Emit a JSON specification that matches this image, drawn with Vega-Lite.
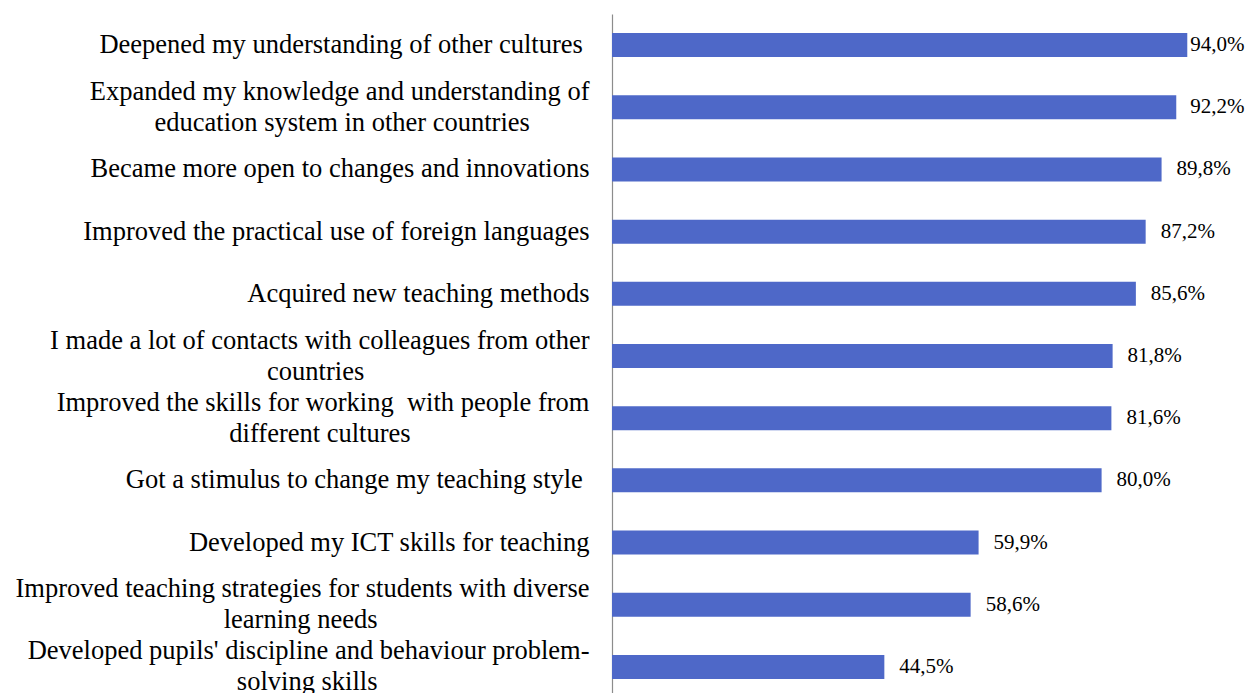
{
  "$schema": "https://vega.github.io/schema/vega-lite/v6.json",
  "autosize": "none",
  "width": 612,
  "height": 684,
  "padding": {"left": 612, "top": 14, "right": 22, "bottom": 0},
  "background": "white",
  "config": {"view": {"stroke": null}},
  "data": {
    "values": [
      {"label": "Deepened my understanding of other cultures\u00a0\u200b", "value": 94.0},
      {"label": "Expanded my knowledge and understanding of|education system in other countries\u00a0\u00a0\u00a0\u00a0\u00a0\u00a0\u00a0\u00a0\u00a0\u200b", "value": 92.2},
      {"label": "Became more open to changes and innovations", "value": 89.8},
      {"label": "Improved the practical use of foreign languages", "value": 87.2},
      {"label": "Acquired new teaching methods", "value": 85.6},
      {"label": "I made a lot of contacts with colleagues from other|countries\u00a0\u00a0\u00a0\u00a0\u00a0\u00a0\u00a0\u00a0\u00a0\u00a0\u00a0\u00a0\u00a0\u00a0\u00a0\u00a0\u00a0\u00a0\u00a0\u00a0\u00a0\u00a0\u00a0\u00a0\u00a0\u00a0\u00a0\u00a0\u00a0\u00a0\u00a0\u00a0\u00a0\u00a0\u200b", "value": 81.8},
      {"label": " Improved the skills for working \u00a0with people from|different cultures\u00a0\u00a0\u00a0\u00a0\u00a0\u00a0\u00a0\u00a0\u00a0\u00a0\u00a0\u00a0\u00a0\u00a0\u00a0\u00a0\u00a0\u00a0\u00a0\u00a0\u00a0\u00a0\u00a0\u00a0\u00a0\u00a0\u00a0\u200b", "value": 81.6},
      {"label": "Got a stimulus to change my teaching style\u00a0\u200b", "value": 80.0},
      {"label": "Developed my ICT skills for teaching", "value": 59.9},
      {"label": "Improved teaching strategies for students with diverse|learning needs\u00a0\u00a0\u00a0\u00a0\u00a0\u00a0\u00a0\u00a0\u00a0\u00a0\u00a0\u00a0\u00a0\u00a0\u00a0\u00a0\u00a0\u00a0\u00a0\u00a0\u00a0\u00a0\u00a0\u00a0\u00a0\u00a0\u00a0\u00a0\u00a0\u00a0\u00a0\u00a0\u200b", "value": 58.6},
      {"label": " Developed pupils' discipline and behaviour problem-|solving skills\u00a0\u00a0\u00a0\u00a0\u00a0\u00a0\u00a0\u00a0\u00a0\u00a0\u00a0\u00a0\u00a0\u00a0\u00a0\u00a0\u00a0\u00a0\u00a0\u00a0\u00a0\u00a0\u00a0\u00a0\u00a0\u00a0\u00a0\u00a0\u00a0\u00a0\u00a0\u00a0\u200b", "value": 44.5}
    ]
  },
  "transform": [
    {"calculate": "replace(format(datum.value, '.1f'), '.', ',') + '%'", "as": "txt"},
    {"calculate": "min(datum.value + 2.45, 94.5)", "as": "pos"}
  ],
  "encoding": {
    "y": {
      "field": "label",
      "type": "nominal",
      "sort": null,
      "scale": {"paddingInner": 0.614, "paddingOuter": 0.307},
      "axis": {
        "title": null,
        "ticks": false,
        "labelPadding": 23,
        "labelFont": "Liberation Serif",
        "labelFontSize": 26.5,
        "labelColor": "black",
        "labelLimit": 0,
        "labelLineHeight": 31,
        "labelAlign": "right",
        "labelBaseline": "middle",
        "labelExpr": "split(datum.label, '|')",
        "labelOffset": {"condition": {"test": "indexof(datum.value, '|') >= 0", "value": -15.5}, "value": 0},
        "domainColor": "#8c8c8c",
        "domainWidth": 1.2,
        "grid": false
      }
    }
  },
  "layer": [
    {
      "mark": {"type": "bar", "color": "#4E68C8"},
      "encoding": {
        "x": {"field": "value", "type": "quantitative", "scale": {"domain": [0, 100]}, "axis": null}
      }
    },
    {
      "mark": {"type": "text", "align": "left", "baseline": "middle", "font": "Liberation Serif", "fontSize": 21, "color": "black"},
      "encoding": {
        "x": {"field": "pos", "type": "quantitative", "scale": {"domain": [0, 100]}, "axis": null},
        "text": {"field": "txt"}
      }
    }
  ]
}
